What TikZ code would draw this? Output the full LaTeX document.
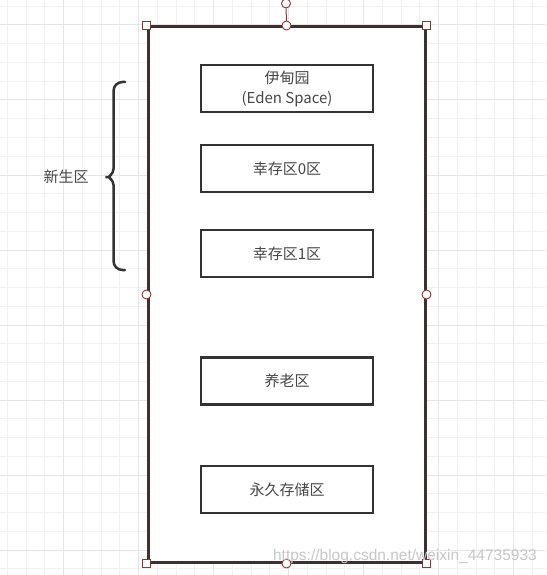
\documentclass[tikz,border=0pt]{standalone}
\usepackage{fontspec}
\setmainfont{Noto Sans CJK SC}
\newfontfamily\wmfont{Liberation Sans}
\definecolor{gridminor}{RGB}{241,241,241}
\definecolor{gridmajor}{RGB}{230,230,230}
\definecolor{frameline}{RGB}{62,48,48}
\definecolor{boxline}{RGB}{51,51,51}
\definecolor{handle}{RGB}{150,50,50}
\tikzset{
  inbox/.style={draw=boxline, line width=2.7pt, minimum width=172pt, minimum height=47pt, inner sep=0pt, align=center, font=\fontsize{15}{20}\selectfont, text=boxline!90},
  sqhandle/.style={draw=handle, fill=white, line width=0.9pt, minimum size=8.5pt, inner sep=0pt},
  cirhandle/.style={draw=handle, fill=white, line width=0.9pt, circle, minimum size=9pt, inner sep=0pt},
}
\begin{document}
\begin{tikzpicture}[x=1pt,y=-1pt]
\useasboundingbox (0,0) rectangle (546,575);
\fill[white] (0,0) rectangle (546,575);
% grid
\foreach \i in {0,...,29} {
  \pgfmathsetmacro\xx{7.25+18.75*\i}
  \draw[gridminor, line width=1pt] (\xx,0) -- (\xx,575);
}
\foreach \i in {0,...,30} {
  \pgfmathsetmacro\yy{6.25+18.75*\i}
  \draw[gridminor, line width=1pt] (0,\yy) -- (546,\yy);
}
\foreach \i in {0,...,7} {
  \pgfmathsetmacro\xx{63.5+75*(\i-1)}
  \draw[gridmajor, line width=1pt] (\xx,0) -- (\xx,575);
}
\foreach \i in {0,...,7} {
  \pgfmathsetmacro\yy{25+75*\i}
  \draw[gridmajor, line width=1pt] (0,\yy) -- (546,\yy);
}
% main frame
\node[draw=frameline, fill=white, line width=3pt, minimum width=277pt, minimum height=535pt, inner sep=0pt] (frame) at (286.5,294.5) {};
% inner boxes
\node[inbox] (eden) at (287,88.5) {伊甸园\\(Eden Space)};
\node[inbox] (s0) at (287,168.5) {幸存区0区};
\node[inbox] (s1) at (287,253.5) {幸存区1区};
\node[inbox] (old) at (287,381) {养老区};
\node[inbox] (perm) at (287,489.5) {永久存储区};
% brace
\coordinate (btop) at (125,82);
\coordinate (bbot) at (125,270);
\coordinate (btip) at (100,177);
\draw[boxline, line width=2.5pt, line cap=round, rounded corners=9pt]
  (btop) -- (113.5,82) -- (113.5,160) .. controls (113.5,174) and (108,177) .. (btip)
  .. controls (108,177) and (113.5,180) .. (113.5,194) -- (113.5,270) -- (bbot);
\node[font=\fontsize{15}{18}\selectfont, text=boxline!90] (young) at (66,177) {新生区};
% handles
\node[cirhandle] (rot) at (286,3.5) {};
\draw[handle, line width=1pt] (rot) -- (frame.north);
\node[sqhandle] (h1) at (frame.north west) {};
\node[sqhandle] (h2) at (frame.north east) {};
\node[sqhandle] (h3) at (frame.south west) {};
\node[sqhandle] (h4) at (frame.south east) {};
\node[cirhandle] (h5) at (frame.north) {};
\node[cirhandle] (h6) at (frame.south) {};
\node[cirhandle] (h7) at (frame.west) {};
\node[cirhandle] (h8) at (frame.east) {};
% watermark
\node[font=\wmfont\fontsize{15.5}{18}\selectfont, text=black!22, anchor=east, inner sep=0pt] (wm) at (537,556) {https://blog.csdn.net/weixin\_44735933};
\end{tikzpicture}
\end{document}
